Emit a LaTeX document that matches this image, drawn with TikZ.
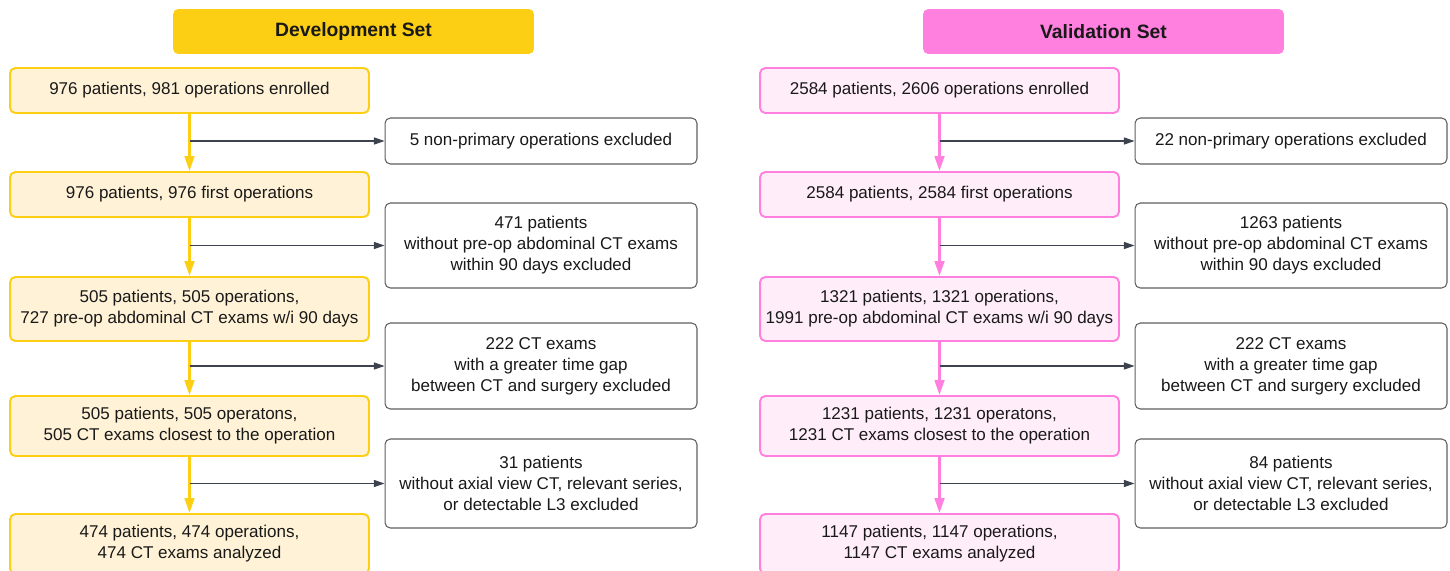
\documentclass[tikz,border=0pt]{standalone}
\usepackage{fontspec}
\setmainfont{Liberation Sans}
\usetikzlibrary{arrows.meta, positioning}
\definecolor{devgold}{RGB}{252, 207, 20}
\definecolor{devcream}{RGB}{255, 242, 214}
\definecolor{valpink}{RGB}{255, 128, 223}
\definecolor{valblush}{RGB}{255, 238, 250}
\definecolor{exclgray}{RGB}{95, 95, 95}
\definecolor{arrowgray}{RGB}{60, 66, 78}
\definecolor{inkdark}{RGB}{25, 25, 25}
\tikzset{
  hdr/.style       = {rectangle, rounded corners=3pt, minimum width=7.22cm, minimum height=0.9cm, inner sep=0pt, text=inkdark, font=\fontsize{11}{13}\selectfont\bfseries},
  devhdr/.style    = {hdr, fill=devgold},
  valhdr/.style    = {hdr, fill=valpink},
  stage/.style     = {rectangle, rounded corners=3pt, line width=1.1pt, minimum width=7.18cm, inner sep=0pt, align=center, text=inkdark, font=\fontsize{9.7}{12}\selectfont},
  devstage/.style  = {stage, draw=devgold, fill=devcream},
  valstage/.style  = {stage, draw=valpink, fill=valblush},
  excl/.style      = {rectangle, rounded corners=3pt, line width=0.6pt, draw=exclgray, fill=white, minimum width=6.24cm, inner sep=0pt, align=center, text=inkdark, font=\fontsize{9.7}{12}\selectfont},
  devflow/.style   = {draw=devgold, line width=1.5pt, -{Triangle[length=8.5pt, width=5.5pt]}},
  valflow/.style   = {draw=valpink, line width=1.5pt, -{Triangle[length=8.5pt, width=5.5pt]}},
  branch/.style    = {draw=arrowgray, line width=0.6pt, -{Triangle[length=6pt, width=4pt]}},
}
\begin{document}
\begin{tikzpicture}[x=0.02cm, y=-0.02cm]
  \useasboundingbox (0,0) rectangle (1450,571);

  % development set
  \node[devhdr] (dh) at (353.5,31.5) {Development Set};
  \node[devstage, minimum height=0.9cm]  (d1) at (189.5,90.5) {976 patients, 981 operations enrolled};
  \node[devstage, minimum height=0.9cm]  (d2) at (189.5,194.5) {976 patients, 976 first operations};
  \node[devstage, minimum height=1.28cm] (d3) at (189.5,309) {505 patients, 505 operations,\\727 pre-op abdominal CT exams w/i 90 days};
  \node[devstage, minimum height=1.2cm]  (d4) at (189.5,426) {505 patients, 505 operatons,\\505 CT exams closest to the operation};
  \node[devstage, minimum height=1.2cm]  (d5) at (189.5,544) {474 patients, 474 operations,\\474 CT exams analyzed};

  \node[excl, minimum height=0.92cm] (dx1) at (541,141) {5 non-primary operations excluded};
  \node[excl, minimum height=1.7cm]  (dx2) at (541,245.5) {471 patients\\without pre-op abdominal CT exams\\within 90 days excluded};
  \node[excl, minimum height=1.72cm] (dx3) at (541,366) {222 CT exams\\with a greater time gap\\between CT and surgery excluded};
  \node[excl, minimum height=1.78cm] (dx4) at (541,483.5) {31 patients\\without axial view CT, relevant series,\\or detectable L3 excluded};

  \draw[devflow] (d1) -- (d2);
  \draw[devflow] (d2) -- (d3);
  \draw[devflow] (d3) -- (d4);
  \draw[devflow] (d4) -- (d5);
  \draw[branch] (d1.south |- dx1.west) -- (dx1.west);
  \draw[branch] (d2.south |- dx2.west) -- (dx2.west);
  \draw[branch] (d3.south |- dx3.west) -- (dx3.west);
  \draw[branch] (d4.south |- dx4.west) -- (dx4.west);

  % validation set
  \node[valhdr] (vh) at (1103.5,31.5) {Validation Set};
  \node[valstage, minimum height=0.9cm]  (v1) at (939.5,90.5) {2584 patients, 2606 operations enrolled};
  \node[valstage, minimum height=0.9cm]  (v2) at (939.5,194.5) {2584 patients, 2584 first operations};
  \node[valstage, minimum height=1.28cm] (v3) at (939.5,309) {1321 patients, 1321 operations,\\1991 pre-op abdominal CT exams w/i 90 days};
  \node[valstage, minimum height=1.2cm]  (v4) at (939.5,426) {1231 patients, 1231 operatons,\\1231 CT exams closest to the operation};
  \node[valstage, minimum height=1.2cm]  (v5) at (939.5,544) {1147 patients, 1147 operations,\\1147 CT exams analyzed};

  \node[excl, minimum height=0.92cm] (vx1) at (1291,141) {22 non-primary operations excluded};
  \node[excl, minimum height=1.7cm]  (vx2) at (1291,245.5) {1263 patients\\without pre-op abdominal CT exams\\within 90 days excluded};
  \node[excl, minimum height=1.72cm] (vx3) at (1291,366) {222 CT exams\\with a greater time gap\\between CT and surgery excluded};
  \node[excl, minimum height=1.78cm] (vx4) at (1291,483.5) {84 patients\\without axial view CT, relevant series,\\or detectable L3 excluded};

  \draw[valflow] (v1) -- (v2);
  \draw[valflow] (v2) -- (v3);
  \draw[valflow] (v3) -- (v4);
  \draw[valflow] (v4) -- (v5);
  \draw[branch] (v1.south |- vx1.west) -- (vx1.west);
  \draw[branch] (v2.south |- vx2.west) -- (vx2.west);
  \draw[branch] (v3.south |- vx3.west) -- (vx3.west);
  \draw[branch] (v4.south |- vx4.west) -- (vx4.west);
\end{tikzpicture}
\end{document}
